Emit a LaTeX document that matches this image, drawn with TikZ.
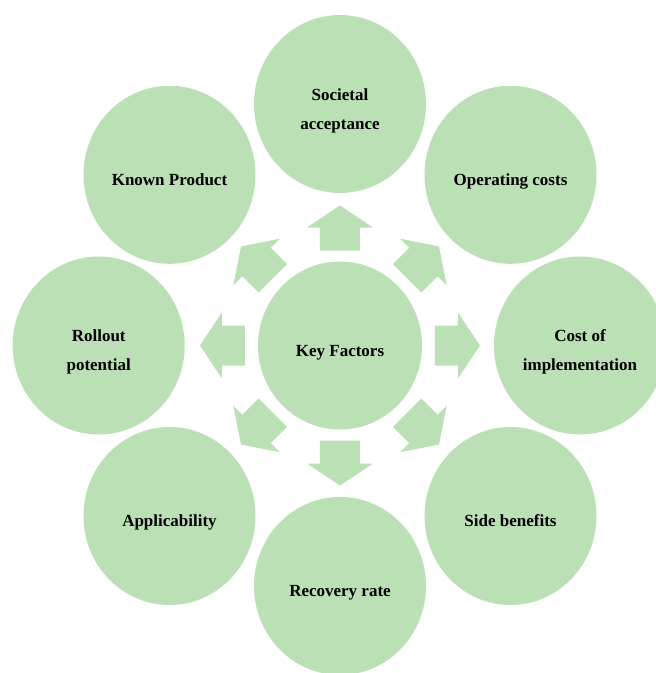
\documentclass[tikz,border=0pt]{standalone}
\usepackage{fontspec}
\setmainfont{Liberation Serif}
\usepackage{tikz}
\usetikzlibrary{shapes.geometric}
\definecolor{leafgreen}{RGB}{187,224,181}
\newcommand{\factortext}[1]{\raisebox{-5pt}[\height][\depth]{\begin{tabular}{@{}c@{}}#1\end{tabular}}}
\tikzset{
	factor/.style={ellipse, fill=leafgreen, minimum width=172pt, minimum height=178pt, inner sep=0pt, font=\bfseries\fontsize{17}{29}\selectfont},
	hub/.style={factor, minimum width=164pt, minimum height=168pt}
}
\begin{document}
\begin{tikzpicture}[x=1pt,y=1pt]
		\clip (-340,-327.5) rectangle (316,345.5);
		\node[hub] (key) at (0,0) {\factortext{Key Factors}};
		\node[factor] (soc) at (0,241.5) {\factortext{Societal\\acceptance}};
		\node[factor] (ops) at (170.5,170.7) {\factortext{Operating costs}};
		\node[factor] (impl) at (240,0) {\factortext{Cost of\\implementation}};
		\node[factor] (side) at (170.5,-170.5) {\factortext{Side benefits}};
		\node[factor] (rec) at (0,-240.5) {\factortext{Recovery rate}};
		\node[factor] (appl) at (-170.5,-170.5) {\factortext{Applicability}};
		\node[factor] (roll) at (-241.3,0) {\factortext{Rollout\\potential}};
		\node[factor] (known) at (-170.5,170.7) {\factortext{Known Product}};
		% block arrows round the hub
		\foreach \a in {0,45,...,315}
			\fill[leafgreen, rotate=\a] (95,-20) -- (118,-20) -- (118,-33) -- (140,0) -- (118,33) -- (118,20) -- (95,20) -- cycle;
	\end{tikzpicture}
\end{document}
